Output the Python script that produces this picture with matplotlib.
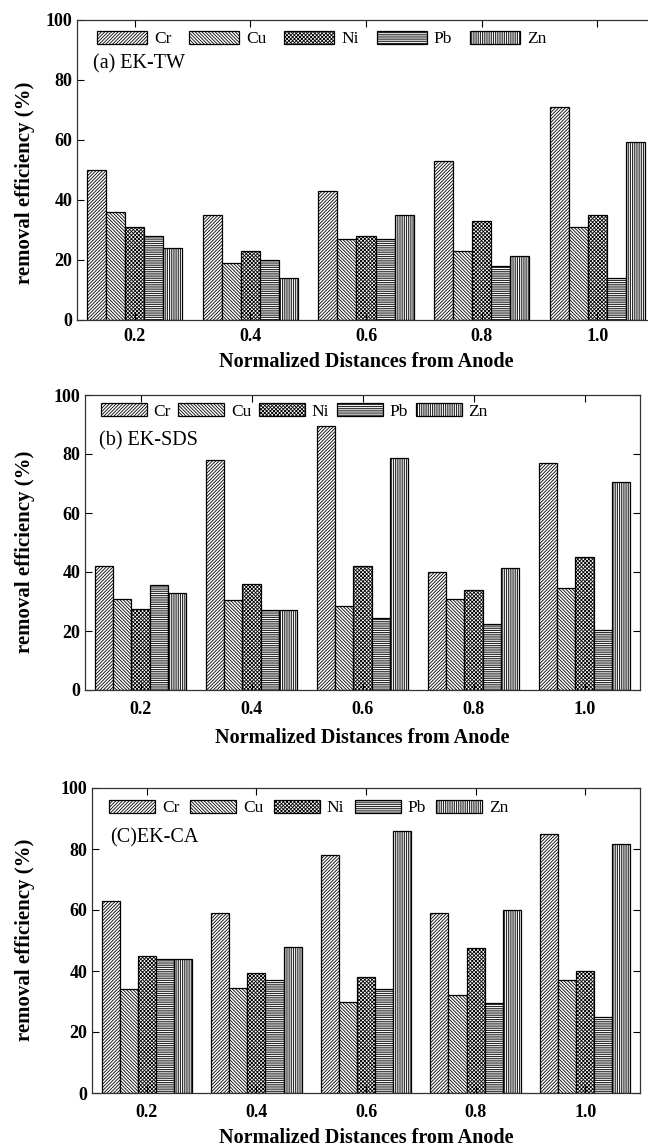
import matplotlib
matplotlib.use("Agg")
import matplotlib.pyplot as plt
import numpy as np

plt.rcParams['font.family'] = ['Liberation Serif', 'DejaVu Serif']
plt.rcParams['hatch.linewidth'] = 0.6

distances = [0.2, 0.4, 0.6, 0.8, 1.0]
dist_labels = ['0.2', '0.4', '0.6', '0.8', '1.0']
metals = ['Cr', 'Cu', 'Ni', 'Pb', 'Zn']
hatches = ['//////////', '\\\\\\\\\\\\\\\\\\\\', 'xxxxxxxxx', '---------', '|||||||||']

# removal efficiency (%) per metal, at distances 0.2 .. 1.0
tw_Cr = [50, 35, 43, 53, 71]
tw_Cu = [36, 19, 27, 23, 31]
tw_Ni = [31, 23, 28, 33, 35]
tw_Pb = [28, 20, 27, 18, 14]
tw_Zn = [24, 14, 35, 21.5, 59.5]

sds_Cr = [42, 78, 89.5, 40, 77]
sds_Cu = [31, 30.5, 28.5, 31, 34.5]
sds_Ni = [27.5, 36, 42, 34, 45]
sds_Pb = [35.5, 27, 24.5, 22.5, 20.5]
sds_Zn = [33, 27, 78.5, 41.5, 70.5]

ca_Cr = [63, 59, 78, 59, 85]
ca_Cu = [34, 34.5, 30, 32, 37]
ca_Ni = [45, 39.5, 38, 47.5, 40]
ca_Pb = [44, 37, 34, 29.5, 25]
ca_Zn = [44, 48, 86, 60, 81.5]

panels = [
    dict(title='(a) EK-TW', data=[tw_Cr, tw_Cu, tw_Ni, tw_Pb, tw_Zn],
         rect=[77, 20, 655, 320], leg=(97, 39), hl=50, cs=1.03, lab=(93, 64),
         ylab=(25, 183), xlab_y=362, pad=6),
    dict(title='(b) EK-SDS', data=[sds_Cr, sds_Cu, sds_Ni, sds_Pb, sds_Zn],
         rect=[85, 395, 640, 690], leg=(100.5, 411.5), hl=46, cs=0.43, lab=(99, 441),
         ylab=(25, 552), xlab_y=738, pad=8),
    dict(title='(C)EK-CA', data=[ca_Cr, ca_Cu, ca_Ni, ca_Pb, ca_Zn],
         rect=[92, 788, 640, 1093], leg=(109.4, 808), hl=46, cs=0.6, lab=(110, 838),
         ylab=(25, 940), xlab_y=1138, pad=8),
]

W, H = 648, 1146
fig = plt.figure(figsize=(W / 100, H / 100), dpi=100)

bw = 0.033
x = np.array(distances)
for p in panels:
    l, t, r, b = p['rect']
    ax = fig.add_axes([l / W, (H - b) / H, (r - l) / W, (b - t) / H])
    for i, (m, vals) in enumerate(zip(metals, p['data'])):
        ax.bar(x + (i - 2) * bw, vals, width=bw, color='white', edgecolor='black',
               linewidth=0.9, hatch=hatches[i], label=m)
    ax.set_xlim(0.1, 1.1)
    ax.set_ylim(0, 100)
    ax.set_xticks(distances)
    ax.set_xticklabels(dist_labels, fontweight='bold', fontsize=13)
    ax.set_yticks([0, 20, 40, 60, 80, 100])
    ax.set_yticklabels(['0', '20', '40', '60', '80', '100'], fontweight='bold', fontsize=13)
    ax.tick_params(direction='in', top=True, right=True, length=5, width=0.8)
    ax.tick_params(axis='x', pad=p['pad'])
    for s in ax.spines.values():
        s.set_linewidth(0.9)
        s.set_color('#333333')
    axw = r - l
    axh = b - t
    ax.set_xlabel('Normalized Distances from Anode', fontweight='bold', fontsize=14.5, va='center')
    ax.xaxis.set_label_coords(0.5, (b - p['xlab_y']) / axh)
    ax.set_ylabel('removal efficiency (%)', fontweight='bold', fontsize=15, va='center')
    yx, yy = p['ylab']
    ax.yaxis.set_label_coords((yx - l) / axw, (b - yy) / axh)
    lx, ly = p['leg']
    fs = 12.5
    fspx = fs * 100 / 72
    ax.legend(loc='center left', bbox_to_anchor=((lx - l) / axw, (b - ly) / axh),
              ncol=5, frameon=False, fontsize=fs, borderpad=0, borderaxespad=0,
              handlelength=p['hl'] / fspx, handleheight=13.5 / fspx,
              handletextpad=0.4, columnspacing=p['cs'])
    tx, ty = p['lab']
    ax.text((tx - l) / axw, (b - ty) / axh, p['title'], transform=ax.transAxes,
            ha='left', va='center', fontsize=14.5)

fig.savefig('out.png', dpi=100)
